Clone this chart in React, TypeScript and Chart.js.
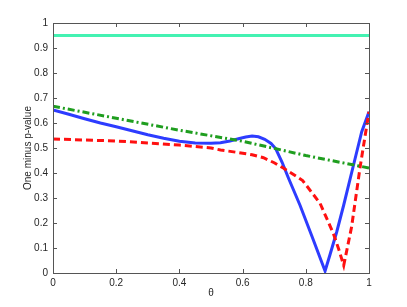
import React, { useEffect, useRef } from "react";
import { Chart, registerables } from "chart.js";

Chart.register(...registerables);

const blueTheta = [0, 0.05, 0.1, 0.15, 0.2, 0.25, 0.3, 0.35, 0.4, 0.45, 0.5, 0.53, 0.56, 0.59, 0.61, 0.63, 0.65, 0.67, 0.69, 0.705, 0.725, 0.745, 0.782, 0.82, 0.861, 0.877, 0.898, 0.92, 0.951, 0.977, 1.0];
const blueValues = [0.652, 0.635, 0.617, 0.6, 0.585, 0.569, 0.553, 0.539, 0.527, 0.52, 0.519, 0.521, 0.528, 0.538, 0.544, 0.548, 0.545, 0.535, 0.518, 0.497, 0.443, 0.38, 0.27, 0.145, 0.008, 0.075, 0.165, 0.272, 0.432, 0.565, 0.645];

const redTheta = [0, 0.1, 0.2, 0.3, 0.4, 0.5, 0.53, 0.58, 0.63, 0.666, 0.7, 0.73, 0.79, 0.845, 0.887, 0.905, 0.92, 0.945, 0.972, 1.0];
const redValues = [0.536, 0.532, 0.528, 0.52, 0.512, 0.5, 0.492, 0.483, 0.473, 0.461, 0.441, 0.419, 0.37, 0.279, 0.159, 0.092, 0.03, 0.185, 0.425, 0.645];

const greenTheta = [0, 0.2, 0.4, 0.6, 0.8, 1.0];
const greenValues = [0.667, 0.619, 0.571, 0.527, 0.47, 0.42];

const cyanTheta = [0, 1];
const cyanValues = [0.95, 0.95];

const xTitle = "θ";
const yTitle = "One minus p-value";

const FONT = "'Liberation Sans', Arial, Helvetica, sans-serif";

const toPoints = (xs: number[], ys: number[]) => xs.map((x, i) => ({ x, y: ys[i] }));
const fmt = (v: number | string) => String(Number(Number(v).toFixed(1)));

const boxPlugin = {
  id: "matlabBox",
  afterDatasetsDraw(chart: any) {
    const { ctx, chartArea } = chart;
    const { left, right, top, bottom } = chartArea;
    const tl = 4;
    ctx.save();
    ctx.strokeStyle = "#555555";
    ctx.lineWidth = 1;
    ctx.beginPath();
    const xs = chart.scales.x;
    const ys = chart.scales.y;
    xs.ticks.forEach((t: any) => {
      const px = Math.round(xs.getPixelForValue(t.value)) + 0.5;
      ctx.moveTo(px, bottom);
      ctx.lineTo(px, bottom - tl);
      ctx.moveTo(px, top);
      ctx.lineTo(px, top + tl);
    });
    ys.ticks.forEach((t: any) => {
      const py = Math.round(ys.getPixelForValue(t.value)) + 0.5;
      ctx.moveTo(left, py);
      ctx.lineTo(left + tl, py);
      ctx.moveTo(right, py);
      ctx.lineTo(right - tl, py);
    });
    ctx.stroke();
    ctx.strokeRect(Math.round(left) + 0.5, Math.round(top) + 0.5, Math.round(right - left), Math.round(bottom - top));
    ctx.restore();
  },
};

export default function App() {
  const ref = useRef<HTMLCanvasElement | null>(null);
  useEffect(() => {
    document.body.style.margin = "0";
    const canvas = ref.current;
    if (!canvas) return;
    const chart = new Chart(canvas, {
      type: "line",
      data: {
        datasets: [
          {
            data: toPoints(cyanTheta, cyanValues),
            borderColor: "#44f2b2",
            borderWidth: 3,
            pointRadius: 0,
            fill: false,
          },
          {
            data: toPoints(greenTheta, greenValues),
            borderColor: "#1f9e1f",
            borderWidth: 3,
            borderDash: [7, 3, 2, 3],
            pointRadius: 0,
            fill: false,
          },
          {
            data: toPoints(redTheta, redValues),
            borderColor: "#ff1010",
            borderWidth: 3,
            borderDash: [7, 4],
            pointRadius: 0,
            fill: false,
          },
          {
            data: toPoints(blueTheta, blueValues),
            borderColor: "#2d3cff",
            borderWidth: 3,
            pointRadius: 0,
            fill: false,
          },
        ],
      },
      options: {
        responsive: false,
        animation: false,
        layout: { padding: { left: 0, right: 38, top: 23, bottom: 0 } },
        plugins: { legend: { display: false }, tooltip: { enabled: false } },
        scales: {
          x: {
            type: "linear",
            min: 0,
            max: 1,
            grid: { display: false, drawTicks: false },
            border: { display: false },
            ticks: { stepSize: 0.2, padding: 4, color: "#262626", font: { family: FONT, size: 10 }, maxRotation: 0, callback: (v: any) => fmt(v) },
            title: { display: true, text: xTitle, color: "#262626", font: { family: FONT, size: 10 }, padding: { top: 0, bottom: 8 } },
            afterFit: (s: any) => { s.height = 34; },
          },
          y: {
            type: "linear",
            min: 0,
            max: 1,
            grid: { display: false, drawTicks: false },
            border: { display: false },
            ticks: { stepSize: 0.1, padding: 5, color: "#262626", font: { family: FONT, size: 10 }, callback: (v: any) => fmt(v) },
            title: { display: true, text: yTitle, color: "#262626", font: { family: FONT, size: 10 }, padding: { top: 22, bottom: 0 } },
            afterFit: (s: any) => { s.width = 53; },
          },
        },
      },
      plugins: [boxPlugin],
    });
    return () => chart.destroy();
  }, []);
  return <canvas ref={ref} width={407} height={307} style={{ display: "block", width: 407, height: 307 }} />;
}
